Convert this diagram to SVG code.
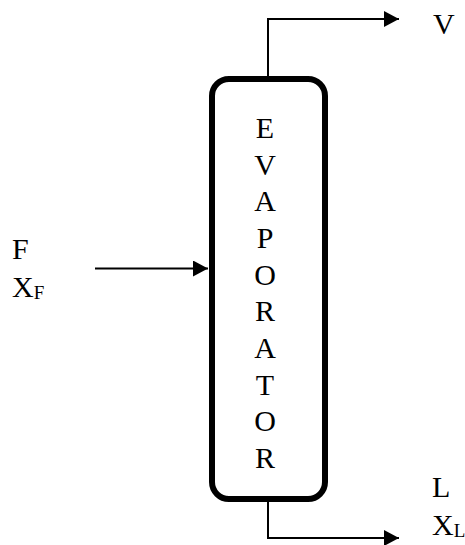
<svg xmlns="http://www.w3.org/2000/svg" width="465" height="545" viewBox="0 0 465 545">
<style>
.t{font-family:"Liberation Serif","Times New Roman",serif;font-size:30px;fill:#000}
.s{font-size:19px}
.ln{fill:none;stroke:#000;stroke-width:2}
</style>
<defs>
<marker id="ah" markerWidth="15" markerHeight="16" refX="15" refY="8" orient="auto" markerUnits="userSpaceOnUse">
<path d="M0,0 L15,8 L0,16 Z" fill="#000"/>
</marker>
</defs>
<rect width="465" height="545" fill="#fff"/>
<g id="connectors">
<path class="ln" d="M268,76 V19 H399" marker-end="url(#ah)"/>
<path class="ln" d="M95,268.5 H208" marker-end="url(#ah)"/>
<path class="ln" d="M268,502 V538 H399" marker-end="url(#ah)"/>
</g>
<g id="evaporator">
<rect x="212" y="79" width="113" height="420" rx="17" ry="17" fill="#fff" stroke="#000" stroke-width="6"/>
<g class="t" text-anchor="middle">
<text x="265" y="138">E</text>
<text x="265" y="174.7">V</text>
<text x="265" y="211.3">A</text>
<text x="265" y="248">P</text>
<text x="265" y="284.7">O</text>
<text x="265" y="321.3">R</text>
<text x="265" y="358">A</text>
<text x="265" y="394.7">T</text>
<text x="265" y="431.3">O</text>
<text x="265" y="468">R</text>
</g>
</g>
<g id="label-V"><text class="t" x="433" y="34">V</text></g>
<g id="label-F">
<text class="t" x="12" y="259">F</text>
<text class="t" x="12" y="297">X<tspan class="s" dy="2">F</tspan></text>
</g>
<g id="label-L">
<text class="t" x="432" y="497">L</text>
<text class="t" x="432" y="535">X<tspan class="s" dy="2">L</tspan></text>
</g>
</svg>
